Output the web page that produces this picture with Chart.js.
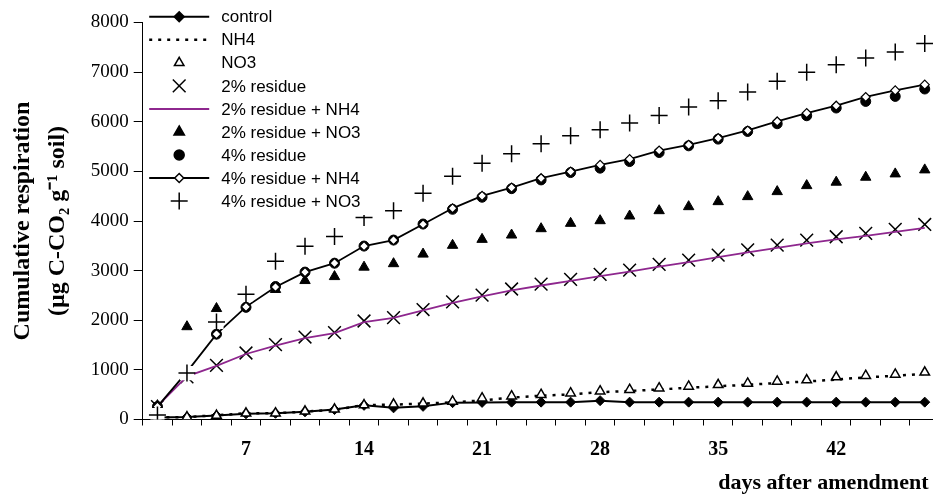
<!DOCTYPE html>
<html>
<head>
<meta charset="utf-8">
<script src="https://cdn.jsdelivr.net/npm/chart.js@4.4.1/dist/chart.umd.min.js"></script>
<style>
  html, body { margin: 0; padding: 0; background: #fff; overflow: hidden; width: 933px; height: 497px; }
  #wrap { width: 950px; height: 497px; }
</style>
</head>
<body>
<div id="wrap"><canvas id="resp-chart" width="950" height="497"></canvas></div>
<script>
// tick labels on the category axis (one slot per sampling date)
const xLabels = ['', '', '', '7', '', '', '', '14', '', '', '', '21', '', '', '', '28',
                 '', '', '', '35', '', '', '', '42', '', '', ''];

// cumulative respiration
const control = [40, 50, 80, 115, 125, 155, 200, 285, 235, 265, 340, 345, 350, 350, 350, 380,
                 350, 350, 350, 350, 350, 350, 350, 350, 350, 350, 350];
const nh4 = [40, 50, 85, 125, 125, 160, 195, 290, 300, 320, 345, 385, 440, 480, 505, 550,
             575, 605, 640, 670, 700, 735, 765, 805, 850, 880, 920];
const no3 = [40, 50, 80, 125, 127, 165, 205, 290, 305, 325, 365, 430, 470, 500, 530, 571,
             600, 632, 667, 700, 727, 768, 794, 855, 883, 909, 950];
const res2 = [260, 860, 1090, 1340, 1508, 1662, 1750, 1985, 2054, 2216, 2370, 2505, 2630, 2727,
              2822, 2923, 3010, 3125, 3212, 3313, 3420, 3515, 3616, 3683, 3750, 3830, 3930];
const res2Nh4 = [270, 870, 1080, 1320, 1490, 1640, 1740, 1960, 2050, 2200, 2350, 2480, 2600, 2700,
                 2795, 2890, 2980, 3080, 3170, 3270, 3370, 3460, 3550, 3630, 3700, 3780, 3860];
const res2No3 = [280, 1870, 2236, 2460, 2620, 2800, 2880, 3070, 3140, 3333, 3510, 3630, 3717, 3845,
                 3953, 4006, 4101, 4208, 4289, 4390, 4491, 4592, 4713, 4782, 4882, 4949, 5030];
const res4 = [260, 950, 1720, 2260, 2680, 2970, 3150, 3495, 3616, 3939, 4236, 4479, 4652, 4828,
              4976, 5065, 5198, 5380, 5515, 5650, 5804, 5960, 6121, 6277, 6410, 6511, 6660];
const res4Nh4 = [260, 960, 1720, 2270, 2670, 2970, 3150, 3495, 3616, 3935, 4256, 4505, 4673, 4862,
                 4996, 5131, 5246, 5420, 5535, 5670, 5824, 6006, 6175, 6323, 6499, 6632, 6747];
const res4No3 = [90, 935, 1966, 2525, 3190, 3490, 3690, 4070, 4208, 4560, 4900, 5165, 5353, 5556,
                 5717, 5838, 5973, 6127, 6297, 6424, 6600, 6814, 6996, 7151, 7287, 7408, 7576];

const PURPLE = '#8e278e';
const SERIF = '"Liberation Serif", "Times New Roman", serif';
const SANS = '"Liberation Sans", Arial, sans-serif';

// legend drawn inside the plot, on a white box (like the Excel original)
const legendItems = [
  { text: 'control', line: '#000', marker: 'rectRot', fill: '#000', r: 5 },
  { text: 'NH4', line: '#000', dash: [3, 6], lineWidth: 2.5 },
  { text: 'NO3', marker: 'triangle', fill: '#fff', r: 5.5 },
  { text: '2% residue', marker: 'crossRot', r: 9 },
  { text: '2% residue + NH4', line: PURPLE },
  { text: '2% residue + NO3', marker: 'triangle', fill: '#000', r: 6 },
  { text: '4% residue', marker: 'circle', fill: '#000', r: 5 },
  { text: '4% residue + NH4', line: '#000', marker: 'rectRot', fill: '#fff', r: 4.5 },
  { text: '4% residue + NO3', marker: 'cross', r: 8.5 }
];

const insideLegend = {
  id: 'insideLegend',
  afterDraw(chart) {
    const ctx = chart.ctx;
    const left = chart.chartArea.left;
    ctx.save();
    ctx.fillStyle = '#fff';
    ctx.fillRect(left + 3, 2, 233, 213);
    legendItems.forEach((item, i) => {
      const y = 16.7 + 23.05 * i;
      const cx = left + 36.5;
      if (item.line) {
        ctx.beginPath();
        ctx.strokeStyle = item.line;
        ctx.lineWidth = item.lineWidth || 2;
        ctx.setLineDash(item.dash || []);
        ctx.moveTo(left + 6.5, y);
        ctx.lineTo(left + 66.5, y);
        ctx.stroke();
        ctx.setLineDash([]);
      }
      if (item.marker) {
        ctx.fillStyle = item.fill || 'rgba(0,0,0,0)';
        ctx.strokeStyle = '#000';
        ctx.lineWidth = 1.5;
        Chart.helpers.drawPoint(ctx, { pointStyle: item.marker, radius: item.r, rotation: 0, borderWidth: 1.5 }, cx, y);
      }
      ctx.fillStyle = '#000';
      ctx.font = '17px ' + SANS;
      ctx.textBaseline = 'middle';
      ctx.textAlign = 'left';
      ctx.fillText(item.text, left + 78.5, y + 1);
    });
    ctx.restore();
  }
};

const ctx = document.getElementById('resp-chart').getContext('2d');

new Chart(ctx, {
  type: 'line',
  data: {
    labels: xLabels,
    datasets: [
      { label: 'control', data: control, order: 10, borderColor: '#000', borderWidth: 2,
        pointStyle: 'rectRot', pointRadius: 5, pointBackgroundColor: '#000', pointBorderColor: '#000', pointBorderWidth: 1 },
      { label: 'NH4', data: nh4, order: 9, borderColor: '#000', borderWidth: 2.5, borderDash: [3, 6], pointRadius: 0 },
      { label: 'NO3', data: no3, order: 8, showLine: false, pointStyle: 'triangle', pointRadius: 5.5,
        pointBackgroundColor: '#fff', pointBorderColor: '#000', pointBorderWidth: 1.5 },
      { label: '2% residue', data: res2, order: 7, showLine: false, pointStyle: 'crossRot', pointRadius: 9,
        pointBorderColor: '#000', pointBorderWidth: 1.5 },
      { label: '2% residue + NH4', data: res2Nh4, order: 6, borderColor: PURPLE, borderWidth: 1.8, pointRadius: 0 },
      { label: '2% residue + NO3', data: res2No3, order: 5, showLine: false, pointStyle: 'triangle', pointRadius: 6,
        pointBackgroundColor: '#000', pointBorderColor: '#000', pointBorderWidth: 1 },
      { label: '4% residue', data: res4, order: 4, showLine: false, pointStyle: 'circle', pointRadius: 5,
        pointBackgroundColor: '#000', pointBorderColor: '#000', pointBorderWidth: 1 },
      { label: '4% residue + NH4', data: res4Nh4, order: 3, borderColor: '#000', borderWidth: 1.8,
        pointStyle: 'rectRot', pointRadius: 4.5, pointBackgroundColor: '#fff', pointBorderColor: '#000', pointBorderWidth: 1.2 },
      // white marker background behind the "+" markers (Excel's automatic marker fill)
      { label: '', data: res4No3, order: 2, showLine: false, pointStyle: 'rect', pointRadius: 10,
        pointBackgroundColor: '#fff', pointBorderWidth: 0, pointBorderColor: '#fff' },
      { label: '4% residue + NO3', data: res4No3, order: 1, showLine: false, pointStyle: 'cross', pointRadius: 8.5,
        pointBorderColor: '#000', pointBorderWidth: 1.5 }
    ]
  },
  options: {
    responsive: false,
    animation: false,
    devicePixelRatio: 1,
    layout: { padding: { top: 22.5, right: 9, bottom: 0, left: 0 } },
    plugins: { legend: { display: false }, tooltip: { enabled: false } },
    elements: { line: { tension: 0 } },
    scales: {
      x: {
        type: 'category',
        offset: true,
        afterFit: (scale) => { scale.height = 77.5; },
        grid: { offset: true, drawOnChartArea: false, drawTicks: true, tickLength: 6, color: '#000' },
        border: { display: true, color: '#000', width: 1 },
        ticks: { autoSkip: false, maxRotation: 0, padding: 12, color: '#000',
                 font: { family: SERIF, size: 20, weight: 'bold' } },
        title: { display: true, text: 'days after amendment  ', align: 'end', color: '#000',
                 padding: { top: 0, bottom: 0 }, font: { family: SERIF, size: 22, weight: 'bold' } }
      },
      y: {
        min: 0,
        max: 8000,
        afterFit: (scale) => { scale.width = 142.7; },
        grid: { drawOnChartArea: false, drawTicks: true, tickLength: 9, color: '#000' },
        border: { display: true, color: '#000', width: 1 },
        ticks: { stepSize: 1000, padding: 5, color: '#000', font: { family: SERIF, size: 19 },
                 callback: (value) => String(value) },
        title: { display: true, text: ['Cumulative respiration', '(µg C-CO₂ g⁻¹ soil)'], color: '#000',
                 padding: { top: 5.5, bottom: 0 }, font: { family: SERIF, size: 24, weight: 'bold', lineHeight: 1.45 } }
      }
    }
  },
  plugins: [insideLegend]
});
</script>
</body>
</html>
